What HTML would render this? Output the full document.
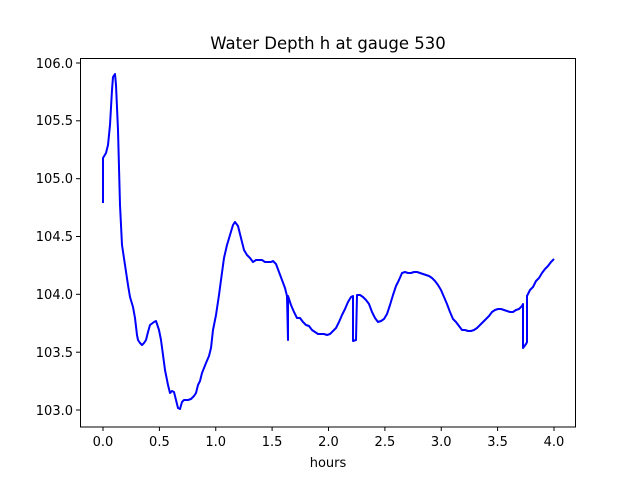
<!DOCTYPE html><html><head><style>body{margin:0;background:#fff}svg{display:block}text{font-family:"DejaVu Sans","Liberation Sans",sans-serif;font-size:13px;fill:#000}</style></head><body>
<svg width="640" height="480" xmlns="http://www.w3.org/2000/svg">
<rect x="0" y="0" width="640" height="480" fill="#fff"/>
<text x="328" y="49" text-anchor="middle" style="font-size:16.5px">Water Depth h at gauge 530</text>
<g stroke="#000" stroke-width="1">
<line x1="103" y1="427" x2="103" y2="431"/><line x1="159.4" y1="427" x2="159.4" y2="431"/><line x1="215.75" y1="427" x2="215.75" y2="431"/><line x1="272.1" y1="427" x2="272.1" y2="431"/><line x1="328.5" y1="427" x2="328.5" y2="431"/><line x1="384.9" y1="427" x2="384.9" y2="431"/><line x1="441.25" y1="427" x2="441.25" y2="431"/><line x1="497.6" y1="427" x2="497.6" y2="431"/><line x1="554" y1="427" x2="554" y2="431"/>
<line x1="76" y1="410" x2="80" y2="410"/><line x1="76" y1="352.2" x2="80" y2="352.2"/><line x1="76" y1="294.3" x2="80" y2="294.3"/><line x1="76" y1="236.5" x2="80" y2="236.5"/><line x1="76" y1="178.7" x2="80" y2="178.7"/><line x1="76" y1="120.8" x2="80" y2="120.8"/><line x1="76" y1="63" x2="80" y2="63"/>
</g>
<g text-anchor="middle"><text x="103" y="446">0.0</text><text x="159.4" y="446">0.5</text><text x="215.75" y="446">1.0</text><text x="272.1" y="446">1.5</text><text x="328.5" y="446">2.0</text><text x="384.9" y="446">2.5</text><text x="441.25" y="446">3.0</text><text x="497.6" y="446">3.5</text><text x="554" y="446">4.0</text></g>
<text x="328" y="467" text-anchor="middle">hours</text>
<g text-anchor="end"><text x="73" y="415">103.0</text><text x="73" y="357">103.5</text><text x="73" y="299">104.0</text><text x="73" y="241">104.5</text><text x="73" y="183">105.0</text><text x="73" y="125">105.5</text><text x="73" y="68">106.0</text></g>
<polyline fill="none" stroke="#0000ff" stroke-width="2" stroke-linejoin="round" points="103,203 103,158 106,153 108,145 110,125 112,90 113,77 115,74 116,85 118,130 120,205 122,245 125,265 128,285 130,297 133,307 135,318 137,335 138,340 140,343 142,345 144,343 146,340 148,332 150,325 154,322 156,321 159,330 161,340 163,355 165,370 168,385 170,393 172,391 174,392 176,400 178,408 180,409 182,402 184,400 188,400 191,399 194,396 196,393 198,385 200,381 202,373 204,368 206,363 209,356 211,348 213,330 216,315 219,295 221,280 224,258 227,245 230,235 233,225 235,222 238,226 241,238 244,250 247,255 250,258 253,262 256,260 259,260 262,260 265,262 268,262 271,262 273,261 276,264 279,272 282,280 285,288 287,296 288,340 288,296 291,305 294,312 297,318 300,318 303,322 306,325 309,326 312,330 315,332 318,334 321,334 324,334 327,335 330,334 333,331 336,328 339,322 342,315 345,309 348,302 351,297 353,296 353,341 356,340 357,295 360,295 363,297 366,300 369,304 372,312 375,318 378,322 381,321 384,319 387,314 390,305 393,295 396,286 399,280 402,273 405,272 408,273 411,273 414,272 417,272 420,273 423,274 426,275 429,276 432,278 435,281 438,285 441,290 444,297 447,304 450,312 453,319 456,322 459,326 462,330 465,330 468,331 471,331 474,330 477,328 480,325 483,322 486,319 489,316 492,312 495,310 498,309 501,309 504,310 507,311 510,312 513,312 516,310 519,309 522,306 523,304 523,348 526,344 527,342 527,296 530,290 533,287 536,281 539,278 542,273 545,269 548,266 551,262 554,259"/>
<rect x="80.5" y="58.5" width="495" height="368.5" fill="none" stroke="#000" stroke-width="1"/>
</svg></body></html>
